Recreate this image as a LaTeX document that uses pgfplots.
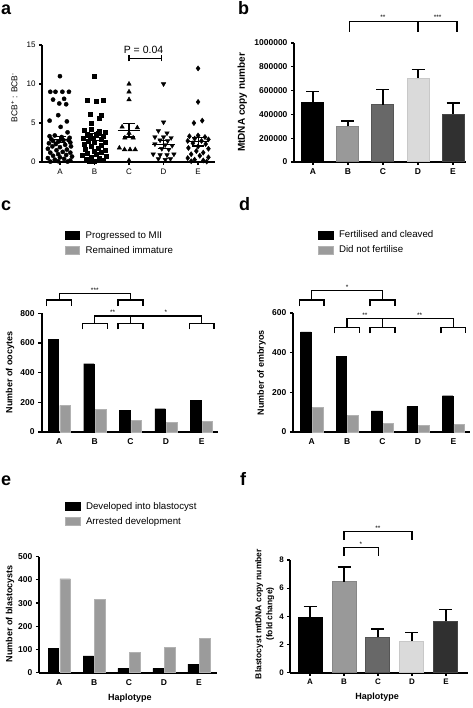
\documentclass[border=0pt]{standalone}
\usepackage{pgfplots}
\pgfplotsset{compat=1.18}
\usepackage{fontspec}
\setmainfont{Liberation Sans}
\definecolor{cB}{RGB}{153,153,153}
\definecolor{cBe}{RGB}{135,135,135}
\definecolor{cC}{RGB}{104,104,104}
\definecolor{cCe}{RGB}{85,85,85}
\definecolor{cD}{RGB}{218,218,218}
\definecolor{cDe}{RGB}{200,200,200}
\definecolor{cE}{RGB}{48,48,48}
\definecolor{cEe}{RGB}{70,70,70}
\definecolor{gbar}{RGB}{155,155,155}
\definecolor{gbare}{RGB}{178,178,178}
\tikzset{
  brk/.style={line width=1.3pt, black},
  star/.style={font=\fontsize{6.5}{7}\selectfont, anchor=south, inner sep=1pt},
}
\pgfplotsset{
  gp/.style={
    scale only axis, clip=false, enlargelimits=false,
    axis lines=left, axis line style={line width=1.7pt,-},
    every tick/.style={black,line width=1.2pt},
    tick align=outside, major tick length=3.5pt,
    /pgf/number format/assume math mode=true,
    ticklabel style={font=\bfseries\fontsize{8.5}{9}\selectfont},
    label style={font=\bfseries\fontsize{9}{10.5}\selectfont},
    xtick={0,1,2,3,4}, xticklabels={A,B,C,D,E},
    ymin=0,
  },
  legimg/.style={
    legend style={draw=none, fill=none, font=\fontsize{9.7}{11}\selectfont, row sep=2.5pt, inner sep=0pt, cells={anchor=west}},
  },
  sq/.style={legend image code/.code={\draw[##1,line width=0.6pt] (0pt,-4pt) rectangle (14.5pt,4pt); \path[draw=none,fill=none] (0pt,0pt) -- (18.5pt,0pt);}},
}
\begin{document}
\begin{tikzpicture}
\path[use as bounding box] (0pt,0pt) rectangle (472pt,708pt);
% panel letters
\node[anchor=base west, font=\bfseries\fontsize{18}{18}\selectfont, inner sep=0pt] at (1pt,693pt) {a};
\node[anchor=base west, font=\bfseries\fontsize{18}{18}\selectfont, inner sep=0pt] at (238pt,693pt) {b};
\node[anchor=base west, font=\bfseries\fontsize{18}{18}\selectfont, inner sep=0pt] at (1pt,497pt) {c};
\node[anchor=base west, font=\bfseries\fontsize{18}{18}\selectfont, inner sep=0pt] at (239pt,497pt) {d};
\node[anchor=base west, font=\bfseries\fontsize{18}{18}\selectfont, inner sep=0pt] at (1pt,222pt) {e};
\node[anchor=base west, font=\bfseries\fontsize{18}{18}\selectfont, inner sep=0pt] at (240pt,222pt) {f};

% ---------------- panel a ----------------
\begin{axis}[gp, at={(42pt,546pt)}, anchor=south west, width=173pt, height=117pt,
  xmin=-0.52, xmax=4.49, ymax=15, ytick={0,5,10,15}, major tick length=3pt,
  ticklabel style={font=\fontsize{8}{9}\selectfont},
  ylabel={BCB\textsuperscript{+} : BCB\textsuperscript{-}},
  ylabel style={at={(axis description cs:-0.16,0.55)}, anchor=center, font=\fontsize{8.5}{10}\selectfont}]
\addplot[only marks, mark=*, mark size=2.1pt, black] coordinates {
(0,11.0) (-0.28,9.0) (-0.13,9.0) (0.07,9.0) (0.26,9.0) (-0.2,8.0) (0.12,8.1) (-0.02,7.5) (0.18,7.4) (-0.05,6.0) (-0.3,5.3) (0.2,5.2) (0.02,4.5) (0.22,3.8)
(-0.3,3.3) (-0.15,3.4) (0.05,3.2) (0.28,3.1) (-0.25,2.9) (0.1,2.8) (-0.05,2.6) (0.3,2.5) (-0.32,2.4) (-0.12,2.3) (0.15,2.2) (0.32,2.0) (-0.22,2.0) (0.0,1.9) (-0.35,1.7) (0.2,1.6) (-0.1,1.5) (0.08,1.3) (0.3,1.2) (-0.28,1.2) (-0.05,1.0) (0.18,0.9) (-0.2,0.8) (0.35,0.7) (0.0,0.6) (-0.35,0.5) (0.12,0.4) (-0.15,0.3) (0.3,0.2) (-0.05,0.1) (0.22,0.05) (-0.28,0.05) (0.05,2.95) (-0.2,2.7) (0.25,2.8)};
\addplot[only marks, mark=square*, mark size=2.0pt, black] coordinates {
(1,11.0) (0.8,7.9) (1.05,7.8) (1.24,7.9) (0.88,6.1) (1.19,6.0) (1.14,5.6) (0.9,5.0)
(0.7,4.1) (0.9,4.2) (1.15,4.0) (1.3,3.8) (0.78,3.6) (1.05,3.5) (1.25,3.3) (0.68,3.1) (0.95,3.0) (1.18,2.9) (0.82,2.7) (1.32,2.6) (1.0,2.5) (0.7,2.3) (1.2,2.2) (0.9,2.0) (1.1,1.8) (0.72,1.6) (1.3,1.5) (0.98,1.4) (1.2,1.2) (0.8,1.1) (1.05,1.0) (0.65,0.9) (1.33,0.8) (0.9,0.6) (1.15,0.5) (0.75,0.3) (1.25,0.2) (1.0,0.1) (0.85,0.05) (1.1,3.7) (0.88,3.3)};
\addplot[only marks, mark=triangle*, mark size=2.6pt, black] coordinates {
(2,10) (2,9) (2,8) (1.8,4.5) (2.24,4.4) (2.0,3.7) (1.88,3.1) (2.12,3.1) (1.72,1.8) (1.87,1.6) (2.03,1.6) (2.18,1.6) (2.0,0.2)};
\addplot[only marks, mark=triangle*, mark options={rotate=180}, mark size=2.6pt, black] coordinates {
(3,10) (3,5.1) (2.85,4.0) (3.1,3.7) (2.75,3.2) (3.0,3.2) (3.22,3.1) (2.9,2.8) (3.12,2.7) (2.75,2.3) (3.05,2.2) (3.25,2.1) (2.95,1.7) (3.15,1.6) (2.7,1.0) (2.9,0.9) (3.1,0.9) (3.3,1.0) (2.85,0.4) (3.05,0.3) (3.2,0.4)};
\addplot[only marks, mark=diamond*, mark size=2.6pt, black] coordinates {
(4,12) (4,7.7) (3.88,5.0) (4.12,5.3) (3.75,3.3) (4.0,3.4) (4.2,3.2) (3.9,3.0) (4.3,2.9) (3.7,2.7) (4.1,2.7) (3.85,2.4) (4.22,2.3) (4.0,2.0) (3.72,1.8) (4.3,1.7) (3.95,1.4) (4.15,1.2) (3.8,1.0) (4.05,0.8) (4.3,0.6) (3.7,0.5) (3.9,0.3) (4.15,0.2) (4.25,0.05) (3.8,0.1)};
% mean and SEM
\addplot[black, line width=1.1pt, unbounded coords=jump] coordinates {
(-0.33,2.9) (0.33,2.9) (0,nan) (-0.17,3.3) (0.17,3.3) (0,nan) (-0.17,2.5) (0.17,2.5) (0,nan) (0,2.5) (0,3.3) (0,nan)
(0.67,3.15) (1.33,3.15) (1,nan) (0.83,3.6) (1.17,3.6) (1,nan) (0.83,2.7) (1.17,2.7) (1,nan) (1,2.7) (1,3.6) (1,nan)
(1.67,4.05) (2.33,4.05) (2,nan) (1.83,4.9) (2.17,4.9) (2,nan) (1.83,3.2) (2.17,3.2) (2,nan) (2,3.2) (2,4.9) (2,nan)
(2.67,2.25) (3.33,2.25) (3,nan) (2.83,2.75) (3.17,2.75) (3,nan) (2.83,1.75) (3.17,1.75) (3,nan) (3,1.75) (3,2.75) (3,nan)
(3.67,2.6) (4.33,2.6) (4,nan) (3.83,3.15) (4.17,3.15) (4,nan) (3.83,2.05) (4.17,2.05) (4,nan) (4,2.05) (4,3.15)};
\draw[line width=1.1pt] (axis cs:2,13.3) -- (axis cs:2.95,13.3);
\draw[line width=1.1pt] (axis cs:2,12.9) -- (axis cs:2,13.7);
\draw[line width=1.1pt] (axis cs:2.95,12.9) -- (axis cs:2.95,13.7);
\node[anchor=south, font=\fontsize{10.5}{11}\selectfont, inner sep=1pt] at (axis cs:2.42,13.75) {P = 0.04};
\end{axis}

% ---------------- panel b ----------------
\begin{axis}[gp, ybar, at={(294pt,546pt)}, anchor=south west, width=172pt, height=119pt,
  xmin=-0.54, xmax=4.37, ymax=1000000, major tick length=3pt,
  scaled y ticks=false,
  ytick={0,200000,400000,600000,800000,1000000},
  yticklabels={0,200000,400000,600000,800000,1000000},
  ticklabel style={font=\bfseries\fontsize{8.5}{9}\selectfont},
  ylabel={MtDNA copy number},
  ylabel style={at={(axis description cs:-0.30,0.5)}, anchor=center, font=\bfseries\fontsize{10}{11}\selectfont},
  bar width=22pt,
  error bars/y dir=plus, error bars/y explicit,
  error bars/error bar style={line width=1.3pt, black},
  error bars/error mark options={rotate=90, line width=1.3pt, mark size=6.5pt, black}]
\addplot[fill=black, draw=black, line width=1pt, bar shift=0pt] coordinates {(0,500000) +- (0,90000)};
\addplot[fill=cB, draw=cBe, line width=1pt, bar shift=0pt] coordinates {(1,300000) +- (0,45000)};
\addplot[fill=cC, draw=cCe, line width=1pt, bar shift=0pt] coordinates {(2,480000) +- (0,130000)};
\addplot[fill=cD, draw=cDe, line width=1pt, bar shift=0pt] coordinates {(3,705000) +- (0,75000)};
\addplot[fill=cE, draw=cEe, line width=1pt, bar shift=0pt] coordinates {(4,400000) +- (0,95000)};
\draw[brk] (axis cs:1.05,1095000) -- (axis cs:1.05,1179000) -- (axis cs:2.98,1179000) -- (axis cs:2.98,1095000);
\draw[brk] (axis cs:3.02,1095000) -- (axis cs:3.02,1179000) -- (axis cs:4.11,1179000) -- (axis cs:4.11,1095000);
\node[star] at (axis cs:2.0,1185000) {**};
\node[star] at (axis cs:3.56,1185000) {***};
\end{axis}

% ---------------- panel c ----------------
\begin{axis}[gp, legimg, ybar, at={(41.7pt,276pt)}, anchor=south west, width=176.3pt, height=118.7pt,
  xmin=-0.49, xmax=4.46, ymax=800, ytick={0,200,400,600,800},
  x tick style={draw=none},
  ylabel={Number of oocytes},
  ylabel style={at={(axis description cs:-0.18,0.5)}, anchor=center},
  bar width=10.5pt,
  legend style={at={(axis description cs:0.13,1.71)}, anchor=north west}]
\addplot[fill=black, draw=black, bar shift=-5.8pt, sq] coordinates {(0,625) (1,460) (2,148) (3,157) (4,215)};
\addlegendentry{Progressed to MII}
\addplot[fill=gbar, draw=gbare, bar shift=5.8pt, sq] coordinates {(0,180) (1,152) (2,78) (3,65) (4,70)};
\addlegendentry{Remained immature}
% brackets
\draw[brk] (axis cs:-0.35,849) -- (axis cs:-0.35,890) -- (axis cs:0.35,890) -- (axis cs:0.35,849);
\draw[brk] (axis cs:1.65,849) -- (axis cs:1.65,890) -- (axis cs:2.35,890) -- (axis cs:2.35,849);
\draw[brk] (axis cs:0,890) -- (axis cs:0,935) -- (axis cs:2,935) -- (axis cs:2,890);
\node[star] at (axis cs:1,935) {***};
\draw[brk] (axis cs:0.65,692) -- (axis cs:0.65,733) -- (axis cs:1.35,733) -- (axis cs:1.35,692);
\draw[brk] (axis cs:1.65,692) -- (axis cs:1.65,733) -- (axis cs:2.35,733) -- (axis cs:2.35,692);
\draw[brk] (axis cs:3.65,692) -- (axis cs:3.65,733) -- (axis cs:4.35,733) -- (axis cs:4.35,692);
\draw[brk] (axis cs:1,733) -- (axis cs:1,782) -- (axis cs:4,782) -- (axis cs:4,733);
\draw[brk] (axis cs:2,733) -- (axis cs:2,782);
\node[star] at (axis cs:1.5,782) {**};
\node[star] at (axis cs:3.0,782) {*};
\end{axis}

% ---------------- panel d ----------------
\begin{axis}[gp, legimg, ybar, at={(293.3pt,276pt)}, anchor=south west, width=176.7pt, height=119pt,
  xmin=-0.52, xmax=4.47, ymax=600, ytick={0,200,400,600},
  x tick style={draw=none},
  ylabel={Number of embryos},
  ylabel style={at={(axis description cs:-0.18,0.5)}, anchor=center},
  bar width=10.5pt,
  legend style={at={(axis description cs:0.14,1.71)}, anchor=north west}]
\addplot[fill=black, draw=black, bar shift=-5.8pt, sq] coordinates {(0,505) (1,383) (2,106) (3,128) (4,183)};
\addlegendentry{Fertilised and cleaved}
\addplot[fill=gbar, draw=gbare, bar shift=5.8pt, sq] coordinates {(0,124) (1,84) (2,44) (3,33) (4,38)};
\addlegendentry{Did not  fertilise}
\draw[brk] (axis cs:-0.35,635) -- (axis cs:-0.35,665) -- (axis cs:0.35,665) -- (axis cs:0.35,635);
\draw[brk] (axis cs:1.65,635) -- (axis cs:1.65,665) -- (axis cs:2.35,665) -- (axis cs:2.35,635);
\draw[brk] (axis cs:0,665) -- (axis cs:0,712) -- (axis cs:2,712) -- (axis cs:2,665);
\node[star] at (axis cs:1,712) {*};
\draw[brk] (axis cs:0.65,497) -- (axis cs:0.65,528) -- (axis cs:1.35,528) -- (axis cs:1.35,497);
\draw[brk] (axis cs:1.65,497) -- (axis cs:1.65,528) -- (axis cs:2.35,528) -- (axis cs:2.35,497);
\draw[brk] (axis cs:3.65,497) -- (axis cs:3.65,528) -- (axis cs:4.35,528) -- (axis cs:4.35,497);
\draw[brk] (axis cs:1,528) -- (axis cs:1,573) -- (axis cs:4,573) -- (axis cs:4,528);
\draw[brk] (axis cs:2,528) -- (axis cs:2,573);
\node[star] at (axis cs:1.5,573) {**};
\node[star] at (axis cs:3.05,573) {**};
\end{axis}

% ---------------- panel e ----------------
\begin{axis}[gp, legimg, ybar, at={(39.3pt,35.3pt)}, anchor=south west, width=177.4pt, height=116pt,
  xmin=-0.57, xmax=4.51, ymax=500, ytick={0,100,200,300,400,500},
  x tick style={draw=none},
  ylabel={Number of blastocysts},
  ylabel style={at={(axis description cs:-0.165,0.51)}, anchor=center},
  xlabel={Haplotype},
  xlabel style={at={(axis description cs:0.51,-0.22)}, anchor=center},
  bar width=10.5pt,
  legend style={at={(axis description cs:0.145,1.49)}, anchor=north west}]
\addplot[fill=black, draw=black, bar shift=-5.8pt, sq] coordinates {(0,105) (1,72) (2,19) (3,19) (4,37)};
\addlegendentry{Developed into blastocyst}
\addplot[fill=gbar, draw=gbare, bar shift=5.8pt, sq] coordinates {(0,405) (1,315) (2,88) (3,109) (4,148)};
\addlegendentry{Arrested development}
\end{axis}

% ---------------- panel f ----------------
\begin{axis}[gp, ybar, at={(290.3pt,35.3pt)}, anchor=south west, width=177.4pt, height=112.7pt,
  xmin=-0.58, xmax=4.64, ymax=8, ytick={0,2,4,6,8}, major tick length=3pt,
  ticklabel style={font=\bfseries\fontsize{8}{9}\selectfont},
  ylabel={Blastocyst mtDNA copy number\\(fold change)},
  ylabel style={at={(axis description cs:-0.145,0.52)}, anchor=center, align=center, font=\bfseries\fontsize{8.5}{11}\selectfont},
  xlabel={Haplotype},
  xlabel style={at={(axis description cs:0.49,-0.22)}, anchor=center},
  bar width=24pt,
  error bars/y dir=plus, error bars/y explicit,
  error bars/error bar style={line width=1.3pt, black},
  error bars/error mark options={rotate=90, line width=1.3pt, mark size=6.5pt, black}]
\addplot[fill=black, draw=black, line width=1pt, bar shift=0pt] coordinates {(0,3.95) +- (0,0.75)};
\addplot[fill=cB, draw=cBe, line width=1pt, bar shift=0pt] coordinates {(1,6.45) +- (0,1.05)};
\addplot[fill=cC, draw=cCe, line width=1pt, bar shift=0pt] coordinates {(2,2.5) +- (0,0.6)};
\addplot[fill=cD, draw=cDe, line width=1pt, bar shift=0pt] coordinates {(3,2.25) +- (0,0.6)};
\addplot[fill=cE, draw=cEe, line width=1pt, bar shift=0pt] coordinates {(4,3.65) +- (0,0.85)};
\draw[brk] (axis cs:1,8.28) -- (axis cs:1,8.87) -- (axis cs:2.02,8.87) -- (axis cs:2.02,8.28);
\draw[brk] (axis cs:1,9.42) -- (axis cs:1,10.0) -- (axis cs:3.0,10.0) -- (axis cs:3.0,9.42);
\node[star] at (axis cs:1.5,8.87) {*};
\node[star] at (axis cs:2.0,10.0) {**};
\end{axis}
\end{tikzpicture}
\end{document}
